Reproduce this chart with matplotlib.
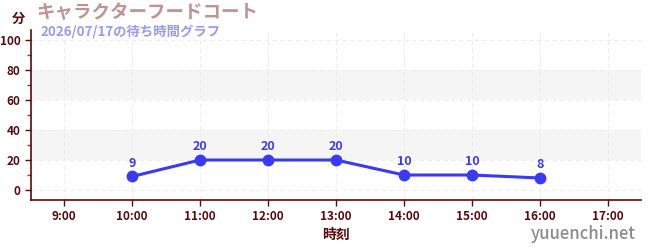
import matplotlib
matplotlib.use("Agg")
import matplotlib.pyplot as plt
from matplotlib.ticker import MultipleLocator

plt.rcParams['font.family'] = ['Noto Sans CJK JP', 'DejaVu Sans']

times = ["9:00", "10:00", "11:00", "12:00", "13:00", "14:00", "15:00", "16:00", "17:00"]
hours = [9, 10, 11, 12, 13, 14, 15, 16, 17]
data_hours = [10, 11, 12, 13, 14, 15, 16]
waits = [9, 20, 20, 20, 10, 10, 8]

title = "キャラクターフードコート"
subtitle = "2026/07/17の待ち時間グラフ"

dark = "#5a0a0a"
fig = plt.figure(figsize=(6.5, 2.5), dpi=100)
ax = fig.add_axes([31/650, 50/250, 610/650, 170/250])
ax.set_xlim(8.515, 17.485)
ax.set_ylim(-6.67, 106.67)

for lo, hi in [(20, 40), (60, 80)]:
    ax.axhspan(lo, hi, color="#f5f5f5", zorder=0, lw=0)

ax.yaxis.set_major_locator(MultipleLocator(20))
ax.yaxis.set_minor_locator(MultipleLocator(10))
ax.set_xticks(hours)
ax.set_xticklabels(times)
ax.grid(True, which="major", color="#ececec", linestyle=(0, (4, 4)), lw=0.7, zorder=1)

ax.plot(data_hours, waits, color="#3a3af5", lw=2.2, marker="o", ms=7.5, zorder=3)
for x, y in zip(data_hours, waits):
    ax.annotate(str(y), (x, y), xytext=(0, 5), textcoords="offset points",
                ha="center", va="bottom", color="#3a3af5", fontsize=9, fontweight="bold")

for s in ["top", "right"]:
    ax.spines[s].set_visible(False)
for s in ["left", "bottom"]:
    ax.spines[s].set_color(dark)
    ax.spines[s].set_linewidth(1.2)

ax.tick_params(axis="both", which="major", colors=dark, labelsize=8.5, length=4, width=1)
ax.tick_params(axis="y", which="minor", colors="#cc2222", length=3, width=1)
for lab in ax.get_xticklabels() + ax.get_yticklabels():
    lab.set_fontweight("bold")
    lab.set_color(dark)

ax.set_xlabel("時刻", color=dark, fontsize=10, fontweight="bold", labelpad=3)
fig.text(12/650, 1 - 19/250, "分", color=dark, fontsize=9.5, fontweight="bold", ha="left", va="center")
fig.text(36/650, 1 - 13/250, title, color="#c09393", fontsize=13.3, fontweight="bold", ha="left", va="center")
fig.text(40/650, 1 - 31/250, subtitle, color="#9a9af2", fontsize=9.6, fontweight="bold", ha="left", va="center")
fig.text(636/650, 1 - 234/250, "yuuenchi.net", color="#8c8c8c", fontsize=12, fontweight="medium", ha="right", va="center")

fig.savefig("out.png", dpi=100)
